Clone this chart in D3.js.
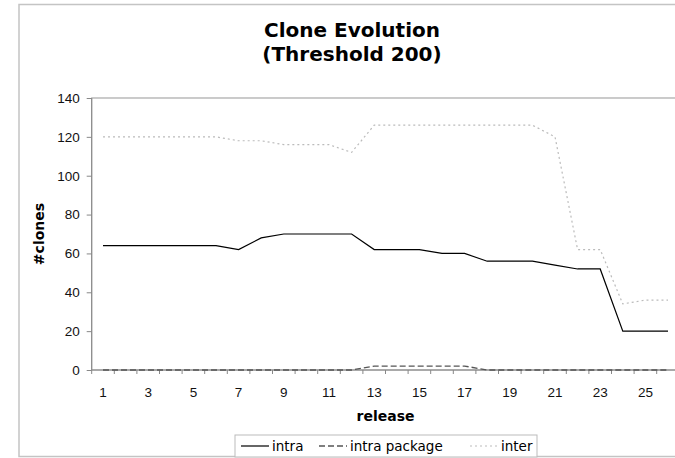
<!DOCTYPE html>
<html>
<head>
<meta charset="utf-8">
<script src="https://cdn.jsdelivr.net/npm/d3@7"></script>
<style>
  body { margin: 0; background: #fff; }
  svg { display: block; font-family: "DejaVu Sans", Verdana, sans-serif; }
</style>
</head>
<body>
<svg id="chart" width="675" height="458"></svg>
<script>
const releases = d3.range(1, 27);
const intra = [64, 64, 64, 64, 64, 64, 62, 68, 70, 70, 70, 70, 62, 62, 62, 60, 60, 56, 56, 56, 54, 52, 52, 20, 20, 20];
const intraPackage = [0, 0, 0, 0, 0, 0, 0, 0, 0, 0, 0, 0, 2, 2, 2, 2, 2, 0, 0, 0, 0, 0, 0, 0, 0, 0];
const inter = [120, 120, 120, 120, 120, 120, 118, 118, 116, 116, 116, 112, 126, 126, 126, 126, 126, 126, 126, 126, 120, 62, 62, 34, 36, 36];
const yTicks = [0, 20, 40, 60, 80, 100, 120, 140];
const titleLines = ["Clone Evolution", "(Threshold 200)"];

const series = [
  { name: "intra", values: intra, color: "#000", width: 1.2, dash: null },
  { name: "intra package", values: intraPackage, color: "#555", width: 1.4, dash: "6,3" },
  { name: "inter", values: inter, color: "#bbb", width: 1.2, dash: "2,3" }
];

const svg = d3.select("#chart");
const plot = { left: 91.7, right: 679.3, top: 98, bottom: 370 };

const x = d3.scaleBand().domain(releases).range([plot.left, plot.right]);
const y = d3.scaleLinear().domain([0, 140]).range([plot.bottom, plot.top]);

// cadre du graphique
svg.append("rect")
  .attr("x", 19).attr("y", 4.5)
  .attr("width", 700).attr("height", 452)
  .attr("fill", "none").attr("stroke", "#c4c4c4").attr("stroke-width", 1.5);

// titre
svg.append("g").selectAll("text")
  .data(titleLines)
  .enter().append("text")
  .attr("x", 352).attr("y", (d, i) => 37 + i * 24)
  .attr("text-anchor", "middle")
  .attr("font-size", 20).attr("font-weight", "bold")
  .text(d => d);

// zone de tracé
svg.append("rect")
  .attr("x", plot.left).attr("y", plot.top)
  .attr("width", plot.right - plot.left).attr("height", plot.bottom - plot.top)
  .attr("fill", "#fff").attr("stroke", "#a8a8a8").attr("stroke-width", 1.2);

// axe y
const yAxis = svg.append("g")
  .attr("transform", `translate(${plot.left},0)`)
  .call(d3.axisLeft(y).tickValues(yTicks).tickSize(5).tickPadding(7));
yAxis.selectAll("text").attr("font-size", 13.5).attr("fill", "#111").attr("font-family", null);
yAxis.selectAll("line, path").attr("stroke", "#888");
yAxis.select(".domain").attr("d", `M0,${plot.top}V${plot.bottom}`);

// axe x : étiquettes impaires, graduations entre catégories
const xAxis = svg.append("g")
  .attr("transform", `translate(0,${plot.bottom})`)
  .call(d3.axisBottom(x).tickValues(releases.filter(r => r % 2 === 1)).tickSize(0).tickPadding(17));
xAxis.selectAll("text").attr("font-size", 13.5).attr("fill", "#111").attr("font-family", null);
xAxis.select(".domain").attr("stroke", "#888").attr("d", `M${plot.left},0H${plot.right}`);
xAxis.selectAll("line.sep")
  .data(releases.map(r => x(r)).concat([plot.right]))
  .enter().append("line")
  .attr("class", "sep")
  .attr("x1", d => d).attr("x2", d => d)
  .attr("y1", 0).attr("y2", 4)
  .attr("stroke", "#888");

// titres des axes
svg.append("text")
  .attr("x", (plot.left + plot.right) / 2).attr("y", 421)
  .attr("text-anchor", "middle")
  .attr("font-size", 14).attr("font-weight", "bold")
  .text("release");

svg.append("text")
  .attr("transform", `translate(44,${(plot.top + plot.bottom) / 2}) rotate(-90)`)
  .attr("text-anchor", "middle")
  .attr("font-size", 14).attr("font-weight", "bold")
  .text("#clones");

// courbes
const line = d3.line()
  .x((d, i) => x(releases[i]) + x.bandwidth() / 2)
  .y(d => y(d));

svg.append("g").selectAll("path")
  .data(series.slice().reverse())
  .enter().append("path")
  .attr("d", d => line(d.values))
  .attr("fill", "none")
  .attr("stroke", d => d.color)
  .attr("stroke-width", d => d.width)
  .attr("stroke-dasharray", d => d.dash);

// légende
const legend = svg.append("g");
legend.append("rect")
  .attr("x", 235).attr("y", 435)
  .attr("width", 302).attr("height", 22)
  .attr("fill", "#fff").attr("stroke", "#bbb");

const legendPos = [241, 319, 470];
const item = legend.selectAll("g.item")
  .data(series)
  .enter().append("g")
  .attr("class", "item")
  .attr("transform", (d, i) => `translate(${legendPos[i]},446)`);
item.append("line")
  .attr("x1", 0).attr("x2", 28)
  .attr("stroke", d => d.color)
  .attr("stroke-width", d => d.width)
  .attr("stroke-dasharray", d => d.dash);
item.append("text")
  .attr("x", 31).attr("y", 5)
  .attr("font-size", 13.5)
  .text(d => d.name);
</script>
</body>
</html>
